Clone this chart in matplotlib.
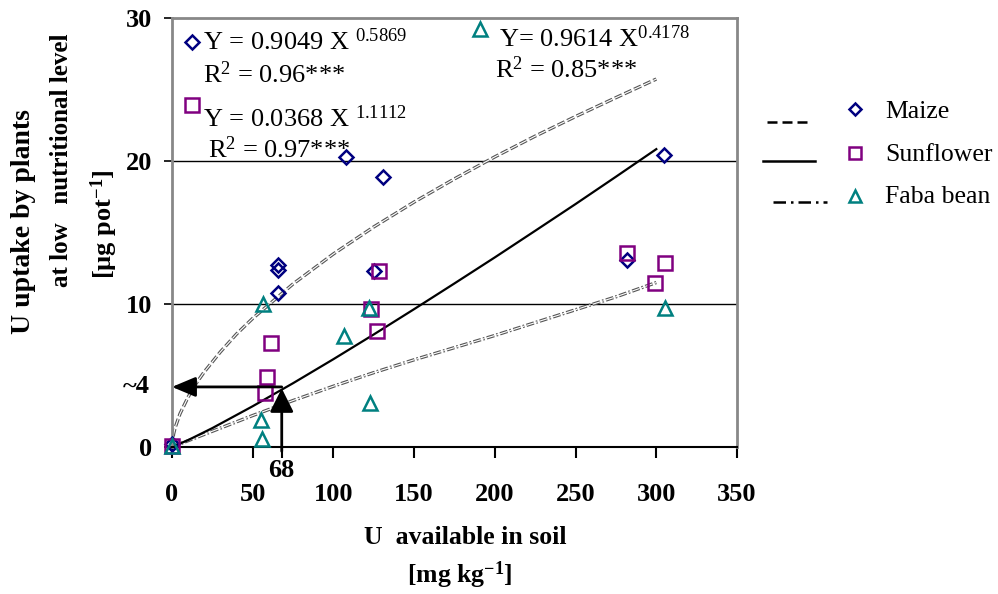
import matplotlib
matplotlib.use("Agg")
import matplotlib.pyplot as plt
import matplotlib.patheffects as pe
from matplotlib.lines import Line2D
from matplotlib.transforms import blended_transform_factory

plt.rcParams.update({
    'font.family': ['Liberation Serif', 'DejaVu Serif'],
    'mathtext.fontset': 'custom',
    'mathtext.rm': 'Liberation Serif',
    'mathtext.it': 'Liberation Serif:italic',
    'mathtext.bf': 'Liberation Serif:bold',
})

# measured points (U in soil, U uptake)
maize_x = [0, 65.9, 65.9, 65.9, 107.8, 125.2, 130.7, 281.7, 304.8]
maize_y = [0.2, 12.7, 12.4, 10.8, 20.3, 12.3, 18.9, 13.1, 20.4]
sun_x = [0, 57.4, 58.9, 61.1, 123.0, 126.8, 128.3, 281.7, 299.3, 305.5]
sun_y = [0.1, 3.75, 4.9, 7.25, 9.65, 8.1, 12.3, 13.6, 11.45, 12.85]
faba_x = [0, 55.0, 56.0, 56.2, 106.8, 122.0, 122.9, 305.5]
faba_y = [0.1, 1.9, 0.55, 10.0, 7.75, 9.7, 3.05, 9.7]

# fitted curves
maize_fit_x = [0, 1, 2, 5, 10, 15, 20, 30, 40, 50, 75, 100, 125, 150, 175, 200, 225, 250, 275, 300]
maize_fit_y = [0, 0.9, 1.36, 2.33, 3.49, 4.45, 5.25, 6.65, 7.9, 8.99, 11.4, 13.5, 15.39, 17.13, 18.75,
               20.29, 21.74, 23.11, 24.43, 25.73]
sun_fit_x = [0, 10, 25, 50, 75, 100, 125, 150, 175, 200, 225, 250, 275, 300]
sun_fit_y = [0, 0.48, 1.32, 2.85, 4.46, 6.14, 7.87, 9.64, 11.44, 13.26, 15.12, 16.99, 18.9, 20.83]
faba_fit_x = [0, 25, 50, 75, 100, 125, 150, 175, 200, 225, 250, 275, 300]
faba_fit_y = [0, 1.1, 2.2, 3.25, 4.25, 5.2, 6.1, 6.95, 7.8, 8.7, 9.6, 10.5, 11.5]

names = ['Maize', 'Sunflower', 'Faba bean']
colors = ['#000080', '#800080', '#008080']
markers = ['D', 's', '^']
msizes = [7, 10, 10]

eq_text = [
    ('Y = 0.9049 X ${}^{0.5869}$', 19.2, 27.75),
    ('R$^{2}$ = 0.96***', 19.2, 25.45),
    ('Y = 0.0368 X ${}^{1.1112}$', 19.2, 22.35),
    ('R$^{2}$ = 0.97***', 22.3, 20.2),
    ('Y= 0.9614 X${}^{0.4178}$', 202.6, 27.95),
    ('R$^{2}$ = 0.85***', 200.0, 25.8),
]
eq_mark_x = [12.5, 12.5, 190.8]
eq_mark_y = [28.3, 23.9, 29.2]

x_cross, y_cross = 68, 4.2

fig = plt.figure(figsize=(9.98, 5.94), dpi=100)
ax = fig.add_axes([0.1723, 0.2475, 0.5662, 0.7222])

for yy in [10, 20]:
    ax.axhline(yy, color='black', lw=1.0, zorder=1)

hollow = [pe.Stroke(linewidth=2.4, foreground='#555555'), pe.Normal()]
ax.plot(maize_fit_x, maize_fit_y, color='white', lw=0.8, dashes=(7, 2.5), path_effects=hollow, zorder=2)
ax.plot(faba_fit_x, faba_fit_y, color='white', lw=0.8, dashes=(7, 2, 1.5, 2), path_effects=hollow, zorder=2)
ax.plot(sun_fit_x, sun_fit_y, color='black', lw=1.6, zorder=2)

for xs, ys, c, m, s in zip([maize_x, sun_x, faba_x], [maize_y, sun_y, faba_y], colors, markers, msizes):
    ax.plot(xs, ys, ls='none', marker=m, ms=s, mfc='none', mec=c, mew=1.8, clip_on=False, zorder=4)

for mx, my, c, m, s in zip(eq_mark_x, eq_mark_y, colors, markers, msizes):
    ax.plot(mx, my, ls='none', marker=m, ms=s, mfc='none', mec=c, mew=1.8, clip_on=False, zorder=4)

for t, tx, ty in eq_text:
    ax.text(tx, ty, t, fontsize=19, ha='left', va='baseline', zorder=5)

# arrows marking the 68 -> ~4 reading
ax.annotate('', xy=(0, y_cross), xytext=(x_cross, y_cross),
            arrowprops=dict(arrowstyle='-|>,head_length=1.0,head_width=0.42', mutation_scale=14.4,
                            lw=2.0, color='black', shrinkA=0, shrinkB=0),
            annotation_clip=False, zorder=6)
ax.annotate('', xy=(x_cross, y_cross - 0.1), xytext=(x_cross, -0.3),
            arrowprops=dict(arrowstyle='-|>,head_length=1.0,head_width=0.5', mutation_scale=14.4,
                            lw=2.0, color='black', shrinkA=0, shrinkB=0),
            annotation_clip=False, zorder=6)

ax.set_xlim(0, 350)
ax.set_ylim(0, 30)
xt = list(range(0, 351, 50))
ax.set_xticks(xt)
ax.set_xticklabels([str(v) for v in xt], fontsize=19, fontweight='bold')
ax.set_xticks([x_cross], minor=True)
ax.set_xticklabels([str(x_cross)], minor=True, fontsize=19, fontweight='bold')
yt = [0, 10, 20, 30]
ax.set_yticks(yt)
ax.set_yticklabels([str(v) for v in yt], fontsize=19, fontweight='bold')
ax.tick_params(axis='x', which='major', direction='out', length=8, width=1.5, pad=18)
ax.tick_params(axis='x', which='minor', direction='out', length=8, width=1.5, pad=1)
ax.tick_params(axis='y', direction='out', length=6, width=1.2, pad=8)

trans = blended_transform_factory(ax.transAxes, ax.transData)
ax.text(-0.039, y_cross, '~4', transform=trans, ha='right', va='center', fontsize=19, fontweight='bold')

for side in ['left', 'top', 'right']:
    ax.spines[side].set_color('#888888')
    ax.spines[side].set_linewidth(2.0)
ax.spines['bottom'].set_color('black')
ax.spines['bottom'].set_linewidth(1.5)

# axis titles
fig.text(24 / 998, 1 - 222 / 594, 'U uptake by plants', rotation=90, ha='center', va='center',
         fontsize=20, fontweight='bold')
fig.text(61 / 998, 1 - 160 / 594, 'at low   nutritional level', rotation=90, ha='center', va='center',
         fontsize=18, fontweight='bold')
fig.text(104 / 998, 1 - 224 / 594, r'[µg pot$^{\mathbf{-1}}$]', rotation=90, ha='center', va='center',
         fontsize=19, fontweight='bold')
fig.text(465 / 998, 1 - 537 / 594, 'U  available in soil', ha='center', va='center',
         fontsize=18.5, fontweight='bold')
fig.text(460 / 998, 1 - 575 / 594, r'[mg kg$^{\mathbf{-1}}$]', ha='center', va='center',
         fontsize=18.5, fontweight='bold')

# legend outside the plot
leg_styles = [dict(ls=(0, (4, 2))), dict(ls='-'), dict(ls=(0, (5, 2, 1, 2)))]
leg_line_x = [(767, 812), (763, 815), (773, 827)]
leg_line_y = [122, 161, 202]
leg_mark_y = [109, 153, 196]
leg_text_y = [112, 155, 197]
for i in range(3):
    x0, x1 = leg_line_x[i]
    fig.add_artist(Line2D([x0 / 998, x1 / 998], [1 - leg_line_y[i] / 594] * 2, color='black', lw=1.8,
                          transform=fig.transFigure, **leg_styles[i]))
    fig.add_artist(Line2D([855 / 998], [1 - leg_mark_y[i] / 594], ls='none', marker=markers[i],
                          ms=msizes[i] - 1, mfc='none', mec=colors[i], mew=1.8, transform=fig.transFigure))
    fig.text(885 / 998, 1 - leg_text_y[i] / 594, names[i], ha='left', va='center', fontsize=18.5)

fig.savefig('out.png', dpi=100)
